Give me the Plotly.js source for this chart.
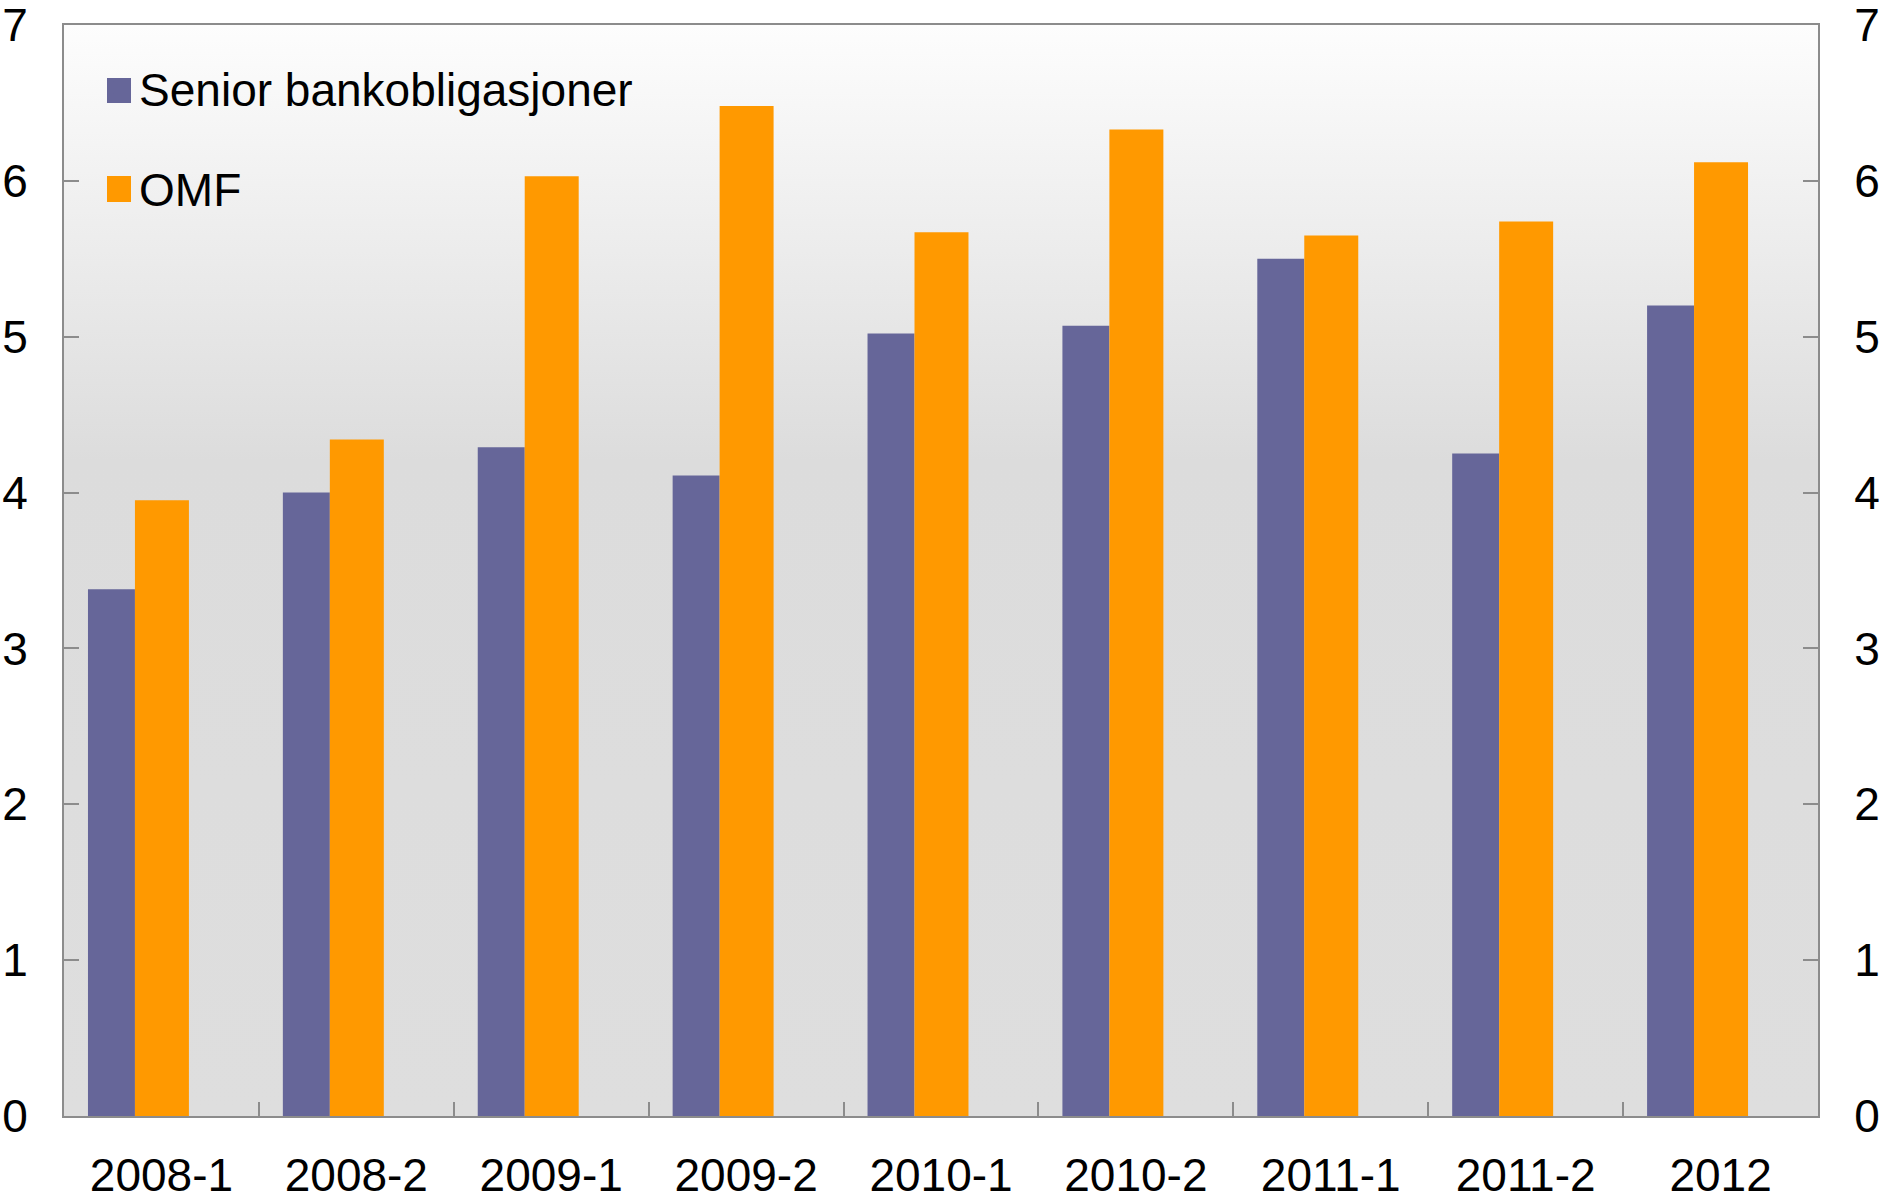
<!DOCTYPE html>
<html>
<head>
<meta charset="utf-8">
<script src="https://cdn.plot.ly/plotly-3.0.1.min.js"></script>
<style>html,body{margin:0;padding:0;background:#fff;}#chart{width:1883px;height:1204px;}</style>
</head>
<body>
<div id="chart"></div>
<script>
var categories = ['2008-1','2008-2','2009-1','2009-2','2010-1','2010-2','2011-1','2011-2','2012'];
var seniorName = 'Senior bankobligasjoner';
var omfName = 'OMF';
var seniorValues = [3.38, 4.00, 4.29, 4.11, 5.02, 5.07, 5.50, 4.25, 5.20];
var omfValues = [3.95, 4.34, 6.03, 6.48, 5.67, 6.33, 5.65, 5.74, 6.12];
var yTicks = [0, 1, 2, 3, 4, 5, 6, 7];

var FONT = 'Liberation Sans, Arial, sans-serif';
var AXIS_COLOR = '#8c8c8c';
var SENIOR_COLOR = '#666699';
var OMF_COLOR = '#ff9900';

// plot area in pixels: left 64, right 1818, top 25, bottom 1116
var PL = 64, PR = 1818, PT = 25, PB = 1116;
function px2x(px) { return (px - PL) / (PR - PL); }
function px2y(py) { return (PB - py) / (PB - PT); }

var bgSvg = '<svg xmlns="http://www.w3.org/2000/svg" width="100" height="100" preserveAspectRatio="none">' +
  '<defs><linearGradient id="g" x1="0" y1="0" x2="0" y2="1">' +
  '<stop offset="0" stop-color="#fdfdfd"/>' +
  '<stop offset="0.4" stop-color="#dcdcdc"/>' +
  '<stop offset="1" stop-color="#dedede"/>' +
  '</linearGradient></defs><rect width="100" height="100" fill="url(#g)"/></svg>';

var traces = [
  {
    type: 'bar', name: seniorName, x: categories, y: seniorValues, yaxis: 'y',
    marker: {color: SENIOR_COLOR, line: {width: 0}},
    offset: -0.377, width: 0.241, legendgroup: 'a', hoverinfo: 'x+y'
  },
  {
    type: 'bar', name: omfName, x: categories, y: omfValues, yaxis: 'y2',
    marker: {color: OMF_COLOR, line: {width: 0}},
    offset: -0.136, width: 0.277, legendgroup: 'b', hoverinfo: 'x+y'
  }
];

function yAxisDef(side) {
  return {
    range: [0, 7], tickvals: yTicks, ticktext: yTicks.map(String),
    showline: true, linecolor: AXIS_COLOR, linewidth: 2,
    ticks: 'inside', ticklen: 15, tickwidth: 2, tickcolor: AXIS_COLOR,
    showgrid: false, zeroline: false, fixedrange: true,
    tickfont: {family: FONT, size: 46, color: '#000000'},
    ticklabelstandoff: 25, ticklabeloverflow: 'allow', side: side
  };
}
var y2 = yAxisDef('right');
y2.overlaying = 'y';
y2.anchor = 'x';

var layout = {
  width: 1883, height: 1204,
  margin: {l: PL, r: 1883 - PR, t: PT, b: 1204 - PB, pad: 0},
  paper_bgcolor: '#ffffff',
  plot_bgcolor: 'rgba(0,0,0,0)',
  font: {family: FONT, size: 46, color: '#000000'},
  barmode: 'group',
  showlegend: true,
  legend: {
    x: 0.02, y: 0.976, xanchor: 'left', yanchor: 'top',
    bgcolor: 'rgba(0,0,0,0)', borderwidth: 0,
    font: {family: FONT, size: 46, color: '#000000'},
    traceorder: 'grouped', tracegroupgap: 38, itemclick: false, itemdoubleclick: false
  },
  xaxis: {
    type: 'category', categoryorder: 'array', categoryarray: categories,
    range: [-0.5, categories.length - 0.5],
    showline: true, linecolor: AXIS_COLOR, linewidth: 2, mirror: true,
    ticks: 'inside', ticklen: 14, tickwidth: 2, tickcolor: AXIS_COLOR,
    tickson: 'boundaries', showgrid: false, zeroline: false, fixedrange: true,
    tickfont: {family: FONT, size: 46, color: '#000000'},
    ticklabelstandoff: 18
  },
  yaxis: yAxisDef('left'),
  yaxis2: y2,
  images: [{
    source: 'data:image/svg+xml;charset=utf-8,' + encodeURIComponent(bgSvg),
    xref: 'paper', yref: 'paper', x: 0, y: 1, sizex: 1, sizey: 1,
    xanchor: 'left', yanchor: 'top', sizing: 'stretch', layer: 'below'
  }],
  shapes: [
    {type: 'rect', xref: 'paper', yref: 'paper', layer: 'above',
     x0: px2x(107), x1: px2x(131), y0: px2y(103), y1: px2y(78),
     fillcolor: SENIOR_COLOR, line: {width: 0}},
    {type: 'rect', xref: 'paper', yref: 'paper', layer: 'above',
     x0: px2x(107), x1: px2x(131), y0: px2y(202), y1: px2y(176),
     fillcolor: OMF_COLOR, line: {width: 0}}
  ]
};

Plotly.newPlot('chart', traces, layout, {displayModeBar: false});
</script>
</body>
</html>
